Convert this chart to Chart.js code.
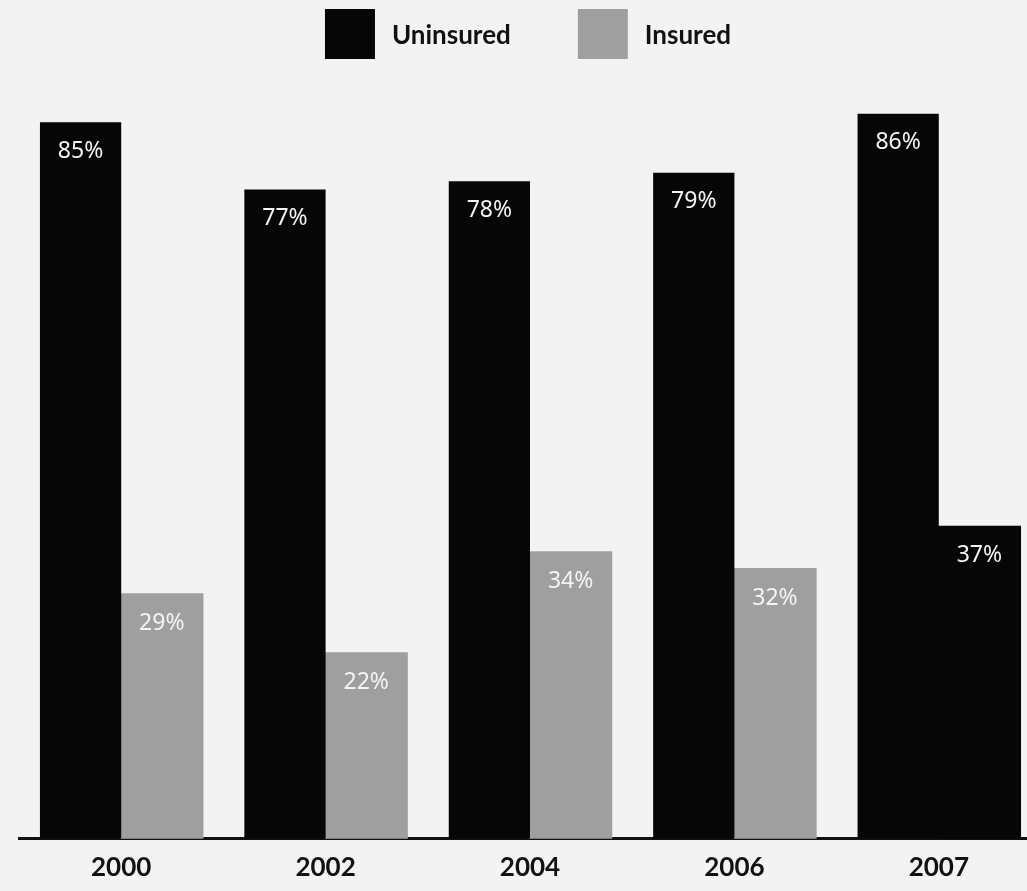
<!DOCTYPE html>
<html>
<head>
<meta charset="utf-8">
<script src="https://cdn.jsdelivr.net/npm/chart.js@4"></script>
<style>
  html, body { margin: 0; padding: 0; background: #f3f3f3; overflow: hidden; }
  #wrap { width: 1045px; height: 891px; }
</style>
</head>
<body>
<div id="wrap"><canvas id="insuranceChart" width="1045" height="891"></canvas></div>
<script>
// 数据
const years = ['2000', '2002', '2004', '2006', '2007'];
const uninsured = [85, 77, 78, 79, 86];
const insured = [29, 22, 34, 32, 37];

const ink = '#060606';
const grey = '#9f9f9f';

// 柱顶内的百分比文字
const valueLabels = {
    id: 'valueLabels',
    afterDatasetsDraw(chart) {
        const ctx = chart.ctx;
        ctx.save();
        ctx.fillStyle = '#f4f4f4';
        ctx.font = '23px "Noto Sans"';
        ctx.textAlign = 'center';
        ctx.textBaseline = 'middle';
        chart.data.datasets.forEach((ds, i) => {
            chart.getDatasetMeta(i).data.forEach((bar, j) => {
                ctx.fillText(ds.data[j] + '%', bar.x, bar.y + 29);
            });
        });
        ctx.restore();
    }
};

// 顶部图例（自己画，方块之间的间距更大）
const topLegend = {
    id: 'topLegend',
    afterDraw(chart) {
        const ctx = chart.ctx;
        const box = 50, gap = 17, itemGap = 67;
        ctx.save();
        ctx.font = 'bold 26px Lato';
        ctx.textBaseline = 'middle';
        const items = chart.data.datasets.map(ds => ({
            text: ds.label,
            color: ds.label === 'Uninsured' ? ink : grey,
            w: ctx.measureText(ds.label).width
        }));
        let total = 0;
        items.forEach((it, i) => { total += box + gap + it.w + (i ? itemGap : 0); });
        let x = (chart.chartArea.left + chart.chartArea.right) / 2 - total / 2 - 2;
        items.forEach(it => {
            ctx.fillStyle = it.color;
            ctx.fillRect(x, 9, box, box);
            ctx.fillStyle = '#111';
            ctx.fillText(it.text, x + box + gap, 36);
            x += box + gap + it.w + itemGap;
        });
        ctx.restore();
    }
};

const chart = new Chart(document.getElementById('insuranceChart'), {
    type: 'bar',
    data: {
        labels: years,
        datasets: [{
            label: 'Uninsured',
            data: uninsured,
            backgroundColor: ink,
            borderWidth: 0
        }, {
            label: 'Insured',
            data: insured,
            // 2007 的柱子在原图里是黑色
            backgroundColor: c => c.dataIndex === 4 ? ink : grey,
            borderWidth: 0,
            inflateAmount: 1 // 去掉两根柱子之间的细缝
        }]
    },
    options: {
        responsive: false,
        animation: false,
        categoryPercentage: 0.795,
        barPercentage: 1.0,
        layout: { padding: { left: 19, right: 4, top: 80, bottom: 3 } },
        plugins: {
            legend: { display: false },
            tooltip: { enabled: false }
        },
        scales: {
            x: {
                grid: { display: false },
                border: { display: true, color: '#111', width: 3 },
                ticks: {
                    color: '#111',
                    padding: 5,
                    font: { family: 'Lato', weight: 'bold', size: 26 }
                }
            },
            y: {
                display: false,
                min: 0,
                max: 90
            }
        }
    },
    plugins: [valueLabels, topLegend]
});
</script>
</body>
</html>
